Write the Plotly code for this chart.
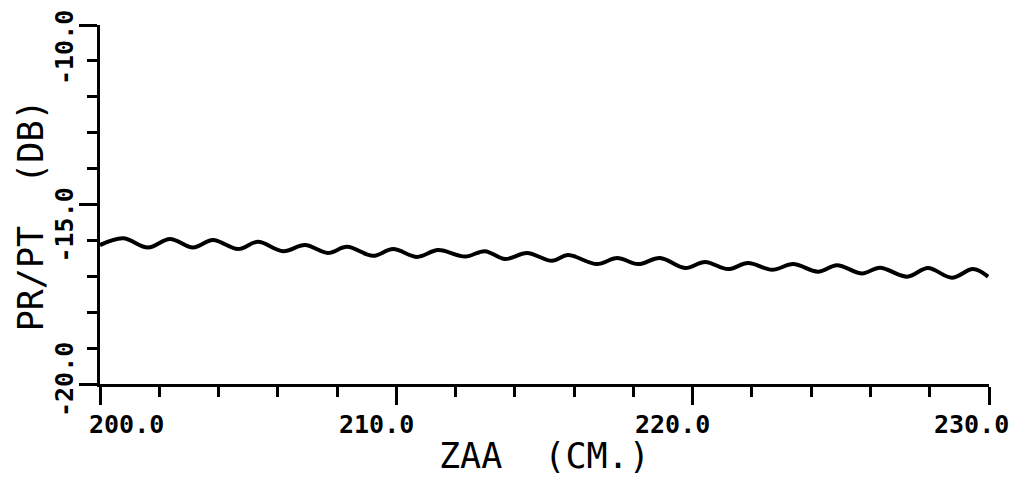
import plotly.graph_objects as go

# ---- data ----
zaa_cm = [200.0, 200.78, 201.62, 202.36, 203.14, 203.81, 204.66, 205.33, 206.18, 206.92,
          207.69, 208.34, 209.21, 209.89, 210.70, 211.41, 212.32, 212.99, 213.67, 214.41,
          215.25, 215.79, 216.77, 217.45, 218.16, 218.90, 219.74, 220.42, 221.19, 221.87,
          222.68, 223.39, 224.23, 224.87, 225.72, 226.32, 227.24, 227.94, 228.75, 229.46,
          229.97]
pr_pt_db = [-16.13, -15.94, -16.20, -15.96, -16.20, -15.99, -16.24, -16.04, -16.30, -16.13,
            -16.35, -16.18, -16.43, -16.24, -16.46, -16.27, -16.45, -16.30, -16.52, -16.35,
            -16.57, -16.41, -16.66, -16.49, -16.66, -16.49, -16.77, -16.60, -16.80, -16.63,
            -16.82, -16.66, -16.87, -16.69, -16.92, -16.76, -17.01, -16.77, -17.04, -16.80,
            -17.01]

x_tick_vals = [200, 210, 220, 230]
x_tick_text = ["200.0", "210.0", "220.0", "230.0"]
y_tick_vals = [-20, -15, -10]
y_tick_text = ["-20.0", "-15.0", "-10.0"]
x_title = "ZAA  (CM.)"
y_title = "PR/PT  (DB)"

# label offsets (styling, pixels)
x_label_xshift = [26, -20, -20, -18]
y_label_yshift = [4, -21, -23]

FONT = "DejaVu Sans Mono"

fig = go.Figure()
fig.add_trace(go.Scatter(
    x=zaa_cm, y=pr_pt_db, mode="lines",
    line=dict(color="black", width=4, shape="spline", smoothing=1.0),
    showlegend=False, hoverinfo="skip"))

axis_common = dict(showline=True, linecolor="black", linewidth=3, showgrid=False,
                   zeroline=False, ticks="outside", tickcolor="black", tickwidth=3,
                   ticklen=18, showticklabels=False)

fig.update_xaxes(range=[200, 230], tickmode="array", tickvals=x_tick_vals,
                 minor=dict(dtick=2, tick0=200, ticks="outside", ticklen=10,
                            tickwidth=3, tickcolor="black"),
                 **axis_common)
fig.update_yaxes(range=[-20, -10], tickmode="array", tickvals=y_tick_vals,
                 minor=dict(dtick=1, tick0=-20, ticks="outside", ticklen=10,
                            tickwidth=3, tickcolor="black"),
                 **axis_common)

annotations = []
for v, t, dx in zip(x_tick_vals, x_tick_text, x_label_xshift):
    annotations.append(dict(x=v, y=0, xref="x", yref="paper", text=t, showarrow=False,
                            xanchor="center", yanchor="middle", xshift=dx, yshift=-40,
                            font=dict(family=FONT, size=25, color="black", weight="bold")))
for v, t, dy in zip(y_tick_vals, y_tick_text, y_label_yshift):
    annotations.append(dict(x=0, y=v, xref="paper", yref="y", text=t, showarrow=False,
                            textangle=-90, xanchor="center", yanchor="middle",
                            xshift=-36, yshift=dy,
                            font=dict(family=FONT, size=25, color="black", weight="bold")))
annotations.append(dict(x=0.5, y=0, xref="paper", yref="paper", text=x_title,
                        showarrow=False, xanchor="center", yanchor="middle", yshift=-72,
                        borderpad=0,
                        font=dict(family=FONT, size=35, color="black")))
annotations.append(dict(x=0, y=0.47, xref="paper", yref="paper", text=y_title,
                        showarrow=False, textangle=-90, xanchor="center", yanchor="middle",
                        xshift=-69, borderpad=0,
                        font=dict(family=FONT, size=35, color="black")))

# the page body adds an 8 px offset; size the figure so the plot box lands on the reference
fig.update_layout(width=1001, height=471, margin=dict(l=92, r=20, t=17, b=95),
                  paper_bgcolor="white", plot_bgcolor="white",
                  annotations=annotations)

fig.write_html("out.html")
